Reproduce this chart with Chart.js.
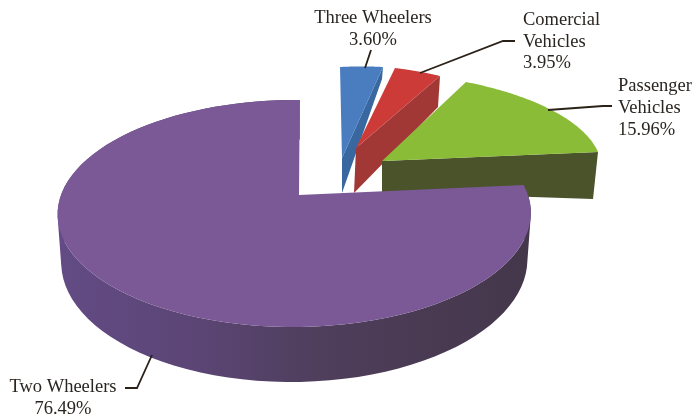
<!DOCTYPE html>
<html>
<head>
<meta charset="utf-8">
<title>Vehicle share</title>
<script src="https://cdn.jsdelivr.net/npm/chart.js@4"></script>
<style>
    html, body { margin: 0; padding: 0; background: #fff; }
    canvas { display: block; }
</style>
</head>
<body>
<canvas id="shareChart" width="698" height="418"></canvas>
<script>
// share of vehicles by type
const categories = ['Three Wheelers', 'Comercial Vehicles', 'Passenger Vehicles', 'Two Wheelers'];
const shares = [3.60, 3.95, 15.96, 76.49];
const faceColors = ['#4a7cc0', '#cc3b38', '#8abc38', '#7a5996'];
const wallColors = ['#38689f', '#a23836', '#4a5329', '#4f3e5c'];

// each pulled-out slice: where its centre and two rim corners land on the page,
// and where the centre and the trailing corner land at the bottom of the slab
const pulledOut = [
    { apex: [342, 158], start: [340, 67], end: [383, 67], apexLow: [342, 193], endLow: [382, 79] },
    { apex: [356, 148], start: [395, 68], end: [440, 76], apexLow: [354, 193], endLow: [438, 107] },
    { apex: [382, 161], start: [466, 82], end: [598, 152], apexLow: [382, 192], endLow: [593, 199] }
];

// the big slice sits on a perspective disc given by its centre and four rim points
const disc = { c: [299, 195], t: [300, 100], r: [528, 195], b: [298, 327], l: [61, 195], depth: 46 };

const labelBlocks = [
    { x: 373, align: 'center', lines: [['Three Wheelers', 23], ['3.60%', 45]], leader: [[371, 50], [365, 68]] },
    { x: 523, align: 'left', lines: [['Comercial', 25], ['Vehicles', 47], ['3.95%', 68]], leader: [[515, 41], [503, 41], [420, 73]] },
    { x: 618, align: 'left', lines: [['Passenger', 91], ['Vehicles', 113], ['15.96%', 135]], leader: [[612, 106], [603, 106], [548, 110]] },
    { x: 63, align: 'center', lines: [['Two Wheelers', 392], ['76.49%', 414]], leader: [[125, 388], [137, 388], [152, 355]] }
];

function discPoint(u, v) {
    const g = (2 * disc.c[0] - disc.r[0] - disc.l[0]) / (disc.r[0] - disc.l[0]);
    const k = (2 * disc.c[1] - disc.b[1] - disc.t[1]) / (disc.b[1] - disc.t[1]);
    const w = 1 + g * u + k * v;
    return [0, 1].map(i => {
        const a = disc.r[i] * (1 + g) - disc.c[i];
        const b = disc.b[i] * (1 + k) - disc.c[i];
        return (disc.c[i] + a * u + b * v) / w;
    }).concat(w);
}

function slicePoints(arc, project) {
    const pts = [];
    const steps = 90;
    for (let i = 0; i <= steps; i++) {
        const a = arc.startAngle + (arc.endAngle - arc.startAngle) * i / steps;
        pts.push(project(Math.cos(a), Math.sin(a)));
    }
    return pts;
}

// affine map taking the slice's centre and rim corners onto their page positions
function pulledProjection(arc, p) {
    const c0 = Math.cos(arc.startAngle), s0 = Math.sin(arc.startAngle);
    const c1 = Math.cos(arc.endAngle), s1 = Math.sin(arc.endAngle);
    const det = c0 * s1 - c1 * s0;
    return (u, v) => {
        const m = (u * s1 - v * c1) / det;
        const n = (v * c0 - u * s0) / det;
        return [0, 1].map(i => p.apex[i] + m * (p.start[i] - p.apex[i]) + n * (p.end[i] - p.apex[i]));
    };
}

function tracePath(ctx, pts) {
    pts.forEach((pt, i) => i ? ctx.lineTo(pt[0], pt[1]) : ctx.moveTo(pt[0], pt[1]));
    ctx.closePath();
}

function fillPath(ctx, pts, color) {
    ctx.beginPath();
    tracePath(ctx, pts);
    ctx.fillStyle = color;
    ctx.fill();
}

function signedArea(pts) {
    return pts.reduce((sum, pt, i) => {
        const next = pts[(i + 1) % pts.length];
        return sum + pt[0] * next[1] - next[0] * pt[1];
    }, 0);
}

const slabPie = {
    id: 'slabPie',
    beforeDatasetsDraw(chart) {
        const ctx = chart.ctx;
        const arcs = chart.getDatasetMeta(0).data;

        pulledOut.forEach((p, i) => {
            const pts = slicePoints(arcs[i], pulledProjection(arcs[i], p));
            fillPath(ctx, [p.apex, p.end, p.endLow, p.apexLow], wallColors[i]);
            fillPath(ctx, [p.apex].concat(pts), faceColors[i]);
        });

        // rim wall of the big slice, shaded from left to right
        const big = arcs[3];
        const rim = slicePoints(big, (u, v) => discPoint(u, v));
        const low = rim.map(pt => [disc.c[0] + (pt[0] - disc.c[0]) * 0.985, pt[1] + disc.depth / pt[2]]);
        const grad = ctx.createLinearGradient(58, 0, 531, 0);
        grad.addColorStop(0, '#634b85');
        grad.addColorStop(0.3, '#5b4574');
        grad.addColorStop(0.55, '#4f3e5c');
        grad.addColorStop(1, '#44374a');
        // one path of same-winding quads, so the wall keeps straight sides and no seams
        ctx.beginPath();
        for (let i = 0; i < rim.length - 1; i++) {
            const quad = [rim[i], rim[i + 1], low[i + 1], low[i]];
            tracePath(ctx, signedArea(quad) < 0 ? quad.reverse() : quad);
        }
        ctx.fillStyle = grad;
        ctx.fill('nonzero');
        fillPath(ctx, [disc.c].concat(rim), faceColors[3]);
        return false;
    },
    afterDraw(chart) {
        const ctx = chart.ctx;
        ctx.strokeStyle = '#2a2118';
        ctx.lineWidth = 1.8;
        ctx.fillStyle = '#2a2520';
        ctx.font = '18.5px "Liberation Serif"';
        ctx.textBaseline = 'alphabetic';
        labelBlocks.forEach(block => {
            ctx.beginPath();
            block.leader.forEach((pt, i) => i ? ctx.lineTo(pt[0], pt[1]) : ctx.moveTo(pt[0], pt[1]));
            ctx.stroke();
            ctx.textAlign = block.align;
            block.lines.forEach(line => ctx.fillText(line[0], block.x, line[1]));
        });
    }
};

new Chart(document.getElementById('shareChart'), {
    type: 'pie',
    data: {
        labels: categories,
        datasets: [{
            data: shares,
            backgroundColor: faceColors,
            borderWidth: 0
        }]
    },
    options: {
        responsive: false,
        animation: false,
        rotation: 0,
        plugins: {
            legend: { display: false },
            tooltip: { enabled: false }
        }
    },
    plugins: [slabPie]
});
</script>
</body>
</html>
